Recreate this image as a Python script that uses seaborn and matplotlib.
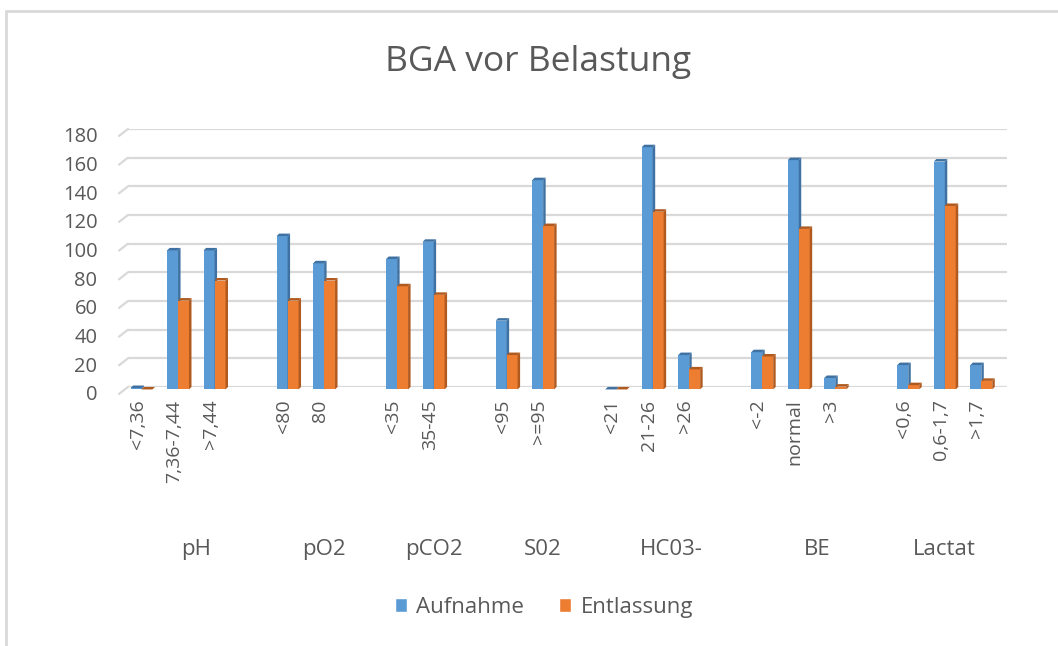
import pandas as pd
import matplotlib
matplotlib.use("Agg")
import matplotlib.pyplot as plt
import matplotlib.transforms as mtransforms
from matplotlib.patches import Polygon, Patch
from matplotlib.lines import Line2D
import seaborn as sns

# ---- data ----
groups = ["pH", "pO2", "pCO2", "S02", "HC03-", "BE", "Lactat"]
categories = [
    ["<7,36", "7,36-7,44", ">7,44"],
    ["<80", "80"],
    ["<35", "35-45"],
    ["<95", ">=95"],
    ["<21", "21-26", ">26"],
    ["<-2", "normal", ">3"],
    ["<0,6", "0,6-1,7", ">1,7"],
]
aufnahme = [1, 97, 97, 107, 88, 91, 103, 48, 146, 0, 169, 24, 26, 160, 8, 17, 159, 17]
entlassung = [0, 62, 76, 62, 76, 72, 66, 24, 114, 0, 124, 14, 23, 112, 2, 3, 128, 6]
series = ["Aufnahme", "Entlassung"]
yticks = [0, 20, 40, 60, 80, 100, 120, 140, 160, 180]

# ---- styling ----
blue, orange = "#5B9BD5", "#ED7D31"
blue_dark, orange_dark = "#3F72A2", "#B05A1F"
grid_col = "#D9D9D9"
text_col = "#595959"

sns.set_theme(style="white")
plt.rcParams["font.family"] = ["Open Sans", "DejaVu Sans"]

# category order with blank slots between the groups
order = []
group_x = []
for gi, cs in enumerate(categories):
    start = len(order)
    order += cs
    if gi < len(categories) - 1:
        order.append(" " * (gi + 1))
    group_x.append((start + len(order) - 1) / 2)

labels = [c for cs in categories for c in cs]
df = pd.DataFrame({
    "Kategorie": labels * 2,
    "Serie": [series[0]] * len(labels) + [series[1]] * len(labels),
    "Anzahl": aufnahme + entlassung,
})

fig = plt.figure(figsize=(10.58, 6.46), dpi=100)
ax = fig.add_axes([0.121, 0.401, 0.831, 0.3994])

sns.barplot(data=df, x="Kategorie", y="Anzahl", hue="Serie", order=order,
            hue_order=series, palette=[blue, orange], width=0.6,
            errorbar=None, saturation=1, legend=False, ax=ax)

ax.set_xlim(-0.37, 23.71)
ax.set_ylim(0, 180)
ax.set_yticks(yticks)
ax.set_xlabel("")
ax.set_ylabel("")
for s in ax.spines.values():
    s.set_visible(False)
ax.yaxis.grid(True, color=grid_col, lw=1.6)
ax.set_axisbelow(True)

# slanted floor ends of the gridlines (Excel 3D look)
for v in yticks:
    ax.plot([0, -9 / 879], [v, v - 7 / 1.43], transform=ax.get_yaxis_transform(),
            color=grid_col, lw=1.6, clip_on=False, zorder=0)

# 3D look: front face pushed forward (down), dark side and top faces behind it
dx = 2.5 * (23.71 + 0.37) / 879
dy = 2.5 * 180 / 258
bars = list(ax.patches)
for p in bars:
    x, w, h = p.get_x(), p.get_width(), p.get_height()
    is_blue = abs(p.get_facecolor()[2] - matplotlib.colors.to_rgba(blue)[2]) < 0.05
    z = 2 if is_blue else 3
    dark = blue_dark if is_blue else orange_dark
    p.set_zorder(z)
    p.set_edgecolor("none")
    p.set_y(-dy)
    p.set_clip_on(False)
    side = Polygon([(x + w, -dy), (x + w + dx, 0), (x + w + dx, h), (x + w, h - dy)],
                   closed=True, facecolor=dark, edgecolor="none", zorder=z, clip_on=False)
    top = Polygon([(x, h - dy), (x + dx, h), (x + w + dx, h), (x + w, h - dy)],
                  closed=True, facecolor=dark, edgecolor="none", zorder=z, clip_on=False)
    ax.add_patch(side)
    ax.add_patch(top)

# tick labels
ax.tick_params(axis="both", length=0, colors=text_col)
ax.tick_params(axis="y", pad=22, labelsize=14.5)
ax.tick_params(axis="x", pad=9, labelrotation=90, labelsize=14)
for lab in ax.get_yticklabels():
    lab.set_transform(lab.get_transform() + mtransforms.ScaledTranslation(0, -0.06, fig.dpi_scale_trans))
for lab in ax.get_xticklabels():
    lab.set_transform(lab.get_transform() + mtransforms.ScaledTranslation(-0.04, 0, fig.dpi_scale_trans))

# group labels
trans = mtransforms.blended_transform_factory(ax.transData, fig.transFigure)
for gx, g in zip(group_x, groups):
    ax.text(gx, 0.150, g, transform=trans, ha="center", va="center",
            fontsize=16, color=text_col)

# title
fig.text(0.509, 0.904, "BGA vor Belastung", ha="center", va="center",
         fontsize=25.5, color=text_col)

# legend
handles = [Patch(facecolor=blue, label=series[0]), Patch(facecolor=orange, label=series[1])]
fig.legend(handles=handles, loc="center", bbox_to_anchor=(0.514, 0.060), ncol=2,
           frameon=False, fontsize=16, handlelength=0.55, handleheight=0.55,
           handletextpad=0.4, columnspacing=1.6, labelcolor=text_col)

# chart frame (top and left edges visible)
fig.add_artist(Line2D([6 / 1058, 1], [1 - 11 / 646, 1 - 11 / 646], transform=fig.transFigure,
                      color=grid_col, lw=2))
fig.add_artist(Line2D([6 / 1058, 6 / 1058], [0, 1 - 11 / 646], transform=fig.transFigure,
                      color=grid_col, lw=2))

fig.savefig("out.png", dpi=100, facecolor="white")
